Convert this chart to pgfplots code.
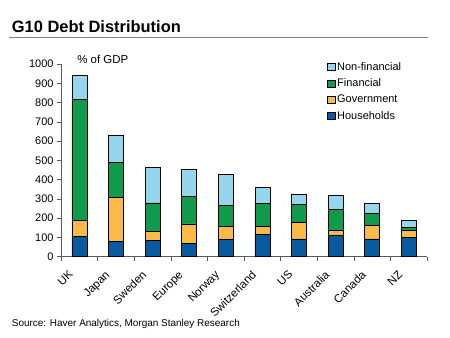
\documentclass[border=0pt]{standalone}
\usepackage{pgfplots}
\pgfplotsset{compat=1.18}
\usepackage{pgfplotstable}
\usepackage{fontspec}
\setmainfont{Liberation Sans}
\definecolor{hh}{RGB}{8,90,158}
\definecolor{gov}{RGB}{251,186,72}
\definecolor{fin}{RGB}{16,154,76}
\definecolor{nf}{RGB}{150,214,236}
\definecolor{axgray}{RGB}{90,90,90}
\pgfplotstableread{
x HH Gov Fin NF
0 104 83 630 124
1 78 228 184 138
2 85 48 146 183
3 69 101 145 140
4 90 68 109 162
5 116 42 119 81
6 92 85 96 49
7 109 28 109 71
8 92 71 62 52
9 99 36 17 38
}\debt
\begin{document}
\begin{tikzpicture}[x=1bp,y=1bp]
\path[use as bounding box] (0,0) rectangle (450,337);
\node[anchor=base west, inner sep=0, font=\fontsize{16.5}{18}\selectfont\bfseries] at (11.7,304.7) {G10 Debt Distribution};
\draw[color={rgb,255:red,128;green,128;blue,128}, line width=1.3bp] (9,299.3) -- (428,299.3);
\node[anchor=base west, inner sep=0, font=\fontsize{10}{12}\selectfont] at (11.7,10.3) {Source: Haver Analytics, Morgan Stanley Research};
\begin{axis}[
  at={(61bp,80.3bp)}, anchor=south west,
  scale only axis, width=366bp, height=192.7bp,
  ybar stacked, bar width=15bp,
  xmin=-0.5, xmax=9.5, ymin=0, ymax=1000,
  axis x line*=bottom, axis y line*=left,
  axis line style={axgray, line width=0.6bp},
  xtick={0,...,9},
  xticklabels={UK,Japan,Sweden,Europe,Norway,Switzerland,US,Australia,Canada,NZ},
  major x tick style={draw=none},
  minor xtick={-0.5,0.5,...,9.5},
  minor x tick style={axgray, line width=0.6bp},
  minor tick length=4bp,
  x tick label style={rotate=45, anchor=north east, font=\fontsize{11.5}{13}\selectfont, xshift=-11bp, yshift=5bp},
  ytick={0,100,...,1000},
  y tick style={axgray, line width=0.6bp},
  major tick length=4bp,
  tick align=outside,
  y tick label style={font=\fontsize{11}{13}\selectfont},
  /pgf/number format/assume math mode=true,
  /pgf/number format/1000 sep={},
  legend style={at={(axis description cs:0.727,1.021)}, anchor=north west, draw=none, fill=none, inner sep=0pt, row sep=2.3bp,
    font=\fontsize{11}{13}\selectfont,
    nodes={text height=8bp, text depth=2bp, inner sep=2bp}},
  legend cell align=left,
  reverse legend,
  legend image code/.code={\draw[#1, draw=black, line width=0.4bp] (0bp,-3.5bp) rectangle (7.5bp,3.5bp);},
  every axis plot/.append style={draw=black, line width=0.5bp},
  clip=false,
]
\addplot[fill=hh] table[x=x,y=HH]{\debt};
\addplot[fill=gov] table[x=x,y=Gov]{\debt};
\addplot[fill=fin] table[x=x,y=Fin]{\debt};
\addplot[fill=nf] table[x=x,y=NF]{\debt};
\legend{Households,Government,Financial,Non-financial}
\node[anchor=base west, inner sep=0, font=\fontsize{11.5}{13}\selectfont] at (axis description cs:0.044,1.0) {\% of GDP};
\end{axis}
\end{tikzpicture}
\end{document}
